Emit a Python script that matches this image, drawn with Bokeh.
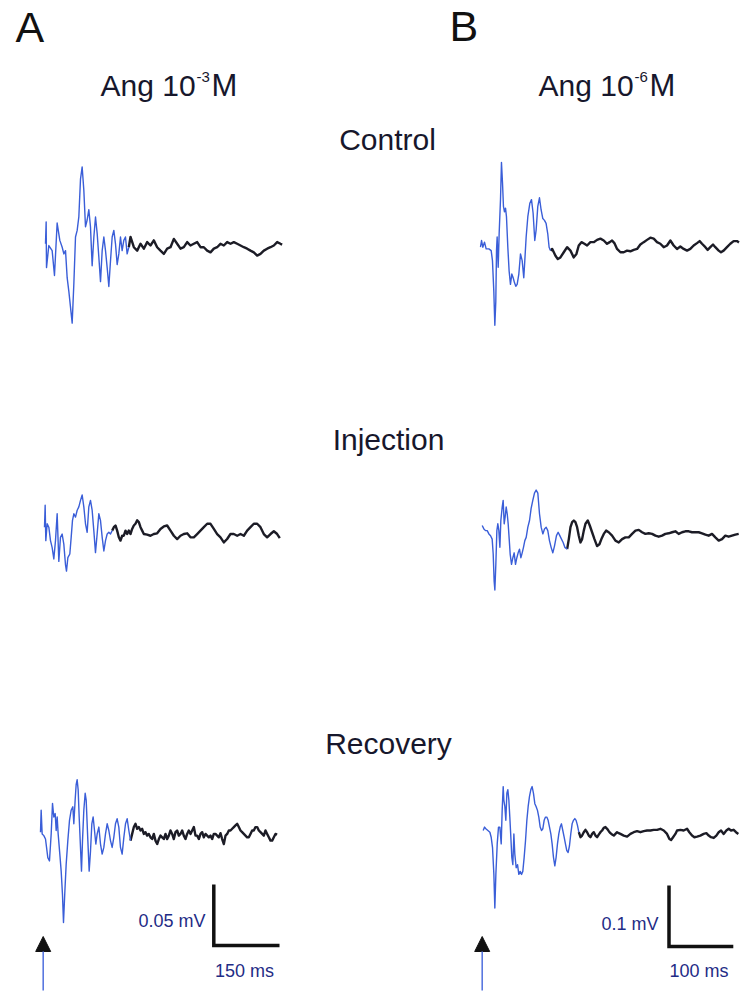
from bokeh.plotting import figure
from bokeh.models import Range1d, Arrow, NormalHead
from bokeh.core.properties import value
from bokeh.embed import file_html
from bokeh.resources import INLINE

# ---------------- data (time in ms, potential in microvolts) ----------------
a_ctrl_t = [0,1.5,2.3,7.6,15.2,20.5,26.6,32.7,38.1,41.9,45.7,49.5,53.3,60.9,64.7,68.5,72.3,76.1,79.9,83.7,
            87.5,91.3,95.1,98.9,102.7,106.5,110.4,114.2,118,121.8,125.6,129.4,133.2,137,140.8,144.6,148.4,152.2,
            156,159.8,163.6,167.4,171.2,175,178.8,182.6,186.4,190.2,194.1,
            201.7,209.3,216.9,224.5,232.1,239.7,247.3,254.9,262.5,270.2,277.8,285.4,293,300.6,308.2,315.8,323.4,
            331,338.6,346.3,353.9,361.5,369.1,376.7,384.3,391.9,399.5,407.1,414.7,422.4,430,437.6,445.2,452.8,
            460.4,468,475.6,483.2,490.8,498.5,506.1,513.7,521.3,528.9,536.5,540.3]
a_ctrl_v = [0,18,-19.5,-1.4,-5.6,-26,17,2.8,-2.8,-8.3,-5.6,-28,-39,-65,-33,5.6,11,22,53,63,44,14,19.5,28,14,
            -18,5.6,22,8.3,-11,-31,-5.6,5.6,-5.6,-19.5,-35,-14,5.6,11,0,-17,-8.3,5.6,-5.6,2.8,5.6,-8.3,-2.8,5.6,
            -2.8,-5.6,0,-4,1.4,-1.4,2.8,-2.8,-5.6,-8.3,-4,-2.8,4,0,-4,-2.8,1.4,-1.4,0,1.4,
            -2.8,-2.8,-5.6,-7,-4,-2.8,0,-1.4,1.4,0,1.4,0,-1.4,-2.8,-4,-5.6,-7,-9.7,-8.3,-5.6,
            -4,-2.8,-1.4,1.4,0,-0.6]

a_inj_t = [0,1.5,3,6.1,9.9,13.7,17.5,21.3,25.1,28.9,32.7,36.5,40.3,44.1,47.9,50.2,53.3,57.8,60.9,63.9,
           67,70.8,74.6,78.4,82.2,86,89.8,93.6,97.4,101.2,105,108.8,112.6,116.4,120.2,124,127.8,131.7,135.5,139.3,
           143.1,146.9,150.7,154.5,158.3,162.1,165.9,169.7,173.5,177.3,181.1,184.9,188.7,192.5,196.3,200.1,203.9,
           207.7,211.6,215.4,219.2,223,226.8,
           234.4,242,249.6,257.2,264.8,272.4,280,287.7,295.3,302.9,310.5,318.1,325.7,333.3,340.9,348.5,356.1,
           363.8,371.4,379,386.6,394.2,401.8,409.4,417,424.6,432.2,439.9,447.5,455.1,462.7,470.3,477.9,485.5,
           493.1,500.7,508.3,516,523.6,531.2,537.2]
a_inj_v = [0,18,-11,2.8,0,-11,-16.7,-26,-11,11,-28,-8.3,-5.6,-13.9,-30.6,-36,-25,-22,-8.3,5.6,
           11,8.3,13.9,16.7,22,26.4,16.7,2.8,-4.2,16.7,22,13.9,-2.8,-20.8,-5.6,11,5.6,-8.3,-19.5,-11,
           -5.6,-4.2,-5.6,-2.8,0,1.4,-2.8,-8.3,-11,-7,-7,-2.8,-5.6,-2.8,-5.6,-1.4,1.4,2.8,5.6,4.2,0,-2.8,-5.6,
           -6.1,-7,-5.6,-5,-1.4,0.6,1.4,-2.8,-7,-9.7,-7,-5.6,-5,-8.3,-8.3,-5.6,-2.8,0,2.8,2.8,
           -1.4,-5.6,-8.3,-12.5,-9.7,-5.6,-5.6,-7,-5.6,-7,-2.8,0,2.8,2.8,0,-5.6,-8.3,-5.6,-3.3,-5.6,-8.9]

a_rec_t = [0,1.5,3.8,7.6,11.4,16.7,20.5,24.4,27.4,30.4,33.5,35.8,38.1,40.3,44.1,47.2,50.2,52.5,55.6,58.6,
           62.4,66.2,70,73.8,76.1,79.1,81.4,83.7,86,88.3,91.3,93.6,95.9,98.9,102,104.3,108.1,111.1,114.2,117.2,
           120.2,123.3,126.3,129.4,
           133.2,137,140.8,144.6,148.4,152.2,156,159.8,163.6,167.4,171.2,175,178.8,182.6,186.4,190.3,194.1,197.9,
           201.7,205.5,209.3,213.1,216.9,220.7,224.5,228.3,232.1,235.9,239.7,243.5,247.3,251.1,254.9,258.7,262.5,
           266.4,270.2,274,277.8,281.6,285.4,289.2,293,296.8,300.6,304.4,308.2,312,315.8,319.6,323.4,327.2,331,
           334.8,338.6,342.5,346.3,350.1,353.9,357.7,361.5,365.3,369.1,372.9,376.7,380.5,384.3,388.1,391.9,395.7,
           399.5,403.3,407.1,410.9,414.7,418.6,422.4,426.2,430,433.8,437.6,441.4,445.2,449,452.8,456.6,460.4,
           464.2,468,471.8,475.6,479.4,483.2,487,490.8,494.7,498.5,502.3,506.1,509.9,513.7,517.5,521.3,525.1,
           528.9,532.7,536.5,540.3]
a_rec_v = [0,18,-1.4,-2.8,-5.6,-20.8,-23.6,-1.4,23.6,12.5,15.3,1.4,12.5,-1.4,-18,-31.9,-51.4,-74,-48.6,-26.4,
           -6.9,9.7,18,20.8,6.9,26.4,38.9,43,34.7,12.5,-12.5,-31.9,-6.9,18,31.9,26.4,-6.9,-31.9,-15.3,6.9,
           12.5,1.4,-9.7,-1.4,
           4.2,-9.7,-18,-12.5,-1.4,6.9,1.4,-6.9,-12.5,-4.2,6.9,11,4.2,-12.5,-18,-4.2,6.9,11,1.4,-6.9,
           -1.4,4.2,6.9,2.8,4.2,1.4,2.8,-1.4,0,-2.8,-1.4,-4.2,-5.6,-1.4,-6.9,-9.7,-5.6,-2.8,-4.2,-5.6,
           -1.4,-5.6,-2.8,1.4,-1.4,-5.6,0,1.4,-2.8,-1.4,1.4,-2.8,-5.6,-1.4,1.4,-1.4,1.4,4.2,-2.8,-2.8,
           -5.6,-1.4,0,-4.2,-1.4,-2.8,-4.2,-2.8,-5.6,-1.4,-1.4,-2.8,-4.2,-0.8,-5.6,-9.7,-2.8,-1.4,1.4,1.4,
           2.8,4.2,5.6,6.9,4.2,1.4,0,-1.4,-2.8,-4.2,-4.2,-1.4,1.4,1.4,4.2,4.2,1.4,0,-1.4,-2.8,
           1.4,-1.4,-4.2,-6.9,-6.9,-4.2,-1.4,-1.9]

b_ctrl_t = [0,1.6,3.6,6.2,8.8,13,16.6,18.6,20.7,22.3,23.8,24.9,25.9,27.5,29,31.1,32.6,34.2,35.7,37.3,
            38.9,40.4,42.5,44.5,46.6,48.7,50.8,52.8,54.9,57,59.6,62.2,64.8,67.3,68.9,71,73.6,76.7,79.3,81.8,
            84.4,86.5,89.1,91.7,94.3,96.9,99.5,102,104.6,106.7,108.8,111.4,114,116.6,120.2,124.3,129.5,134.7,
            139.9,145,149.2,152.8,157,161.6,165.8,170.9,176.1,181.3,186.5,191.7,196.8,201,204.6,208.2,212.4,
            217.6,222.7,227.9,233.1,238.3,243.5,248.6,253.8,259,264.2,269.4,274.5,279.7,284.9,290.1,295.3,
            300.4,305.6,310.8,316,321.2,326.3,331.5,336.7,340.8,344.5,349.7,353.3,357.4,361.6,365.2,370.4,374,
            378.1,383.3,388.5,393.7,398.9,402]
b_ctrl_v = [0,11,0,8.3,-2.8,-2.8,-5.6,-22,-72,-128,-89,-5.6,16.7,-33,22,78,139,106,67,58,
            64,50,0,-39,-61,-44,-50,-58,-64,-61,-44,-11,-22,-50,-22,16.7,50,72,78,56,
            11,28,67,81,61,47,44,39,22,0,-5.6,-2.8,-8.3,-14,-19.5,-16.7,-8.3,0,-5.6,-16.7,
            -11,2.8,8.3,5.6,2.8,8.3,8.3,12,14,11,5.6,8.3,11,6.7,-2.8,-8.3,-8.3,-5.6,-6.7,-4.4,
            -2.8,4.4,8.3,12,15.6,14,8.3,5.6,0,2.8,11,2.8,-2.8,1.1,-2.8,-5.6,-2.8,2.8,6.7,10,
            5.6,0,-4.4,0,4.4,0,-5.6,-8.3,-5.6,0,5.6,10,10,7.8]

b_inj_t = [0,2.6,5.2,7.8,10.4,13,15.5,17.1,18.6,19.7,21.2,22.8,24.3,25.9,27.5,29,31.1,32.6,34.2,35.7,
           37.3,38.9,40.4,42,43.5,45.6,47.7,49.7,51.8,53.9,55.9,58,60.1,62.2,64.2,66.3,68.4,71,73.6,76.1,
           78.7,81.3,83.9,86.5,89.1,91.7,94.3,96.9,99.5,102,104.6,107.2,109.8,112.4,115.5,118.1,120.7,123.3,
           125.9,128.5,132.1,134.7,137.3,139.9,142.5,145,147.6,150.2,152.8,155.4,158,160.6,164.2,167.3,170.9,
           174.6,178.7,182.3,185.4,189.1,192.7,196.8,202,207.2,212.4,217.6,222.7,227.9,233.1,238.3,243.5,
           248.6,253.8,259,264.2,269.4,274.5,279.7,284.9,290.1,295.3,300.4,305.6,310.8,316,321.2,326.3,331.5,
           336.7,341.9,347.1,352.2,357.4,362.6,367.8,373,378.1,383.3,388.5,393.7,398.9]
b_inj_v = [2.8,-2.8,-5.6,-5.6,-11,-13.9,-19.5,-44,-89,-103,-61,-5.6,5.6,-5.6,-33,11,33,44,5.6,16.7,
           33,22,5.6,-19.5,-44,-61,-50,-42,-61,-50,-42,-36,-50,-42,-33,-22,-16.7,0,11,31,
           44,56,61,56,22,0,-11,-2.8,0,-5.6,-22,-33,-42,-31,-13.9,-8.3,-13.9,-19.5,-25,-33,
           -36,-19.5,0,8.3,11,8.3,0,-13.9,-25,-19.5,-5.6,5.6,11,2.8,-8.3,-19.5,-31,-28,-19.5,-11,
           -5.6,-8.3,-13.9,-22,-25,-19.5,-16.7,-16.7,-11,-5.6,-4.4,-8.3,-11,-10,-11,-13.9,-15.6,-13.9,-11,-10,
           -8.3,-6.7,-11,-8.3,-6.7,-6.7,-8.3,-8.3,-8.3,-10,-12.2,-13.9,-11,-16.7,-22,-19.5,-13.9,-15.6,-13.9,
           -12.2,-11]

b_rec_t = [0,2.1,4.1,7.3,10.4,12.4,14.5,16.6,18.1,19.7,21.8,23.8,25.9,28,29.5,31.1,32.1,33.7,35.2,36.8,
           38.3,39.9,41.4,43,44.5,46.1,47.7,49.2,
           51.3,53.4,55.4,57.5,59.6,61.6,63.7,65.8,67.9,69.9,72,74.1,76.1,78.2,80.3,82.4,84.4,86.5,88.6,90.7,
           92.7,94.8,96.9,98.9,101,103.1,105.2,107.2,109.3,111.4,113.4,115.5,117.6,119.7,121.7,123.8,125.9,
           127.9,130,132.1,134.2,136.2,138.3,140.4,142.5,144.5,146.6,
           148.7,151.3,153.8,156.4,159,161.6,164.2,166.8,169.4,172,174.6,177.2,179.7,182.3,184.9,187.5,190.1,
           192.7,195.3,197.9,200.5,203.1,205.6,208.2,210.8,213.4,
           218.6,223.8,229,234.1,239.3,244.5,249.7,254.9,260,265.2,270.4,275.6,280.8,285.9,
           289.6,292.2,295.3,298.9,301.5,306.7,311.8,317,320.6,324.8,328.4,332.6,337.7,342.9,347.1,350.7,354.3,
           358.5,362.6,366.2,369.9,374,378.1,381.8,385.4,389.5,393.2,396.8]
b_rec_v = [0,5.6,2.8,0,-2.8,-11,-28,-72,-127,-72,-22,5.6,5.6,-22,33,72,50,39,16.7,61,
           67,50,22,-11,-44,-56,-5.6,-39,
           -61,-56,-72,-67,-72,-67,-44,-16.7,16.7,39,56,67,72,61,44,39,33,22,5.6,0,
           2.8,16.7,22,22,16.7,5.6,-5.6,-22,-44,-58,-44,-22,-5.6,5.6,11,0,-11,-22,-33,-36,
           -25,-5.6,11,16.7,19.5,16.7,8.3,
           -2.8,-11,-8.3,-2.8,1.1,-2.8,-8.3,-11,-5.6,-2.8,-8.3,-11,-6.7,-2.8,0,4.4,5.6,2.8,-1.1,-4.4,
           -6.7,-8.3,-5.6,-2.8,-4.4,-5.6,
           -8.3,-10,-5.6,-2.8,-1.1,-2.8,-1.1,0,0,1.1,1.1,2.8,0,-5.6,
           -13.9,-15.6,-11,-5.6,0,1.1,0,2.8,-2.8,-8.3,-11,-10,-8.3,-5.6,-4.4,-8.3,-11,-12.2,-8.3,-2.8,
           0,-5.6,0,2.8,0,1.1,-2.8,-5.6]

# time (ms) after which the stored trace is drawn in black instead of blue
split_ms = {"a_ctrl": 190, "a_inj": 151, "a_rec": 205, "b_ctrl": 107, "b_inj": 132, "b_rec": 147}

# scale bars
scale_a_ms, scale_a_uv = 150, 50
scale_b_ms, scale_b_uv = 100, 100

titles = ["Ang 10", "Ang 10"]
exponents = ["-3", "-6"]
conditions = ["Control", "Injection", "Recovery"]
panel_letters = ["A", "B"]

# ---------------- layout (page pixels) ----------------
W, H = 744, 992
X0, X1, Y0, Y1 = 0, 744, 0, 992
K_A, C_A = 150 / 65.7, 50 / 61.0      # ms per px, uV per px (column A)
K_B, C_B = 100 / 64.3, 100 / 61.0     # column B

panels = {
    "a_ctrl": (a_ctrl_t, a_ctrl_v, 45.0, 243.3, K_A, C_A),
    "a_inj":  (a_inj_t, a_inj_v, 44.0, 526.7, K_A, C_A),
    "a_rec":  (a_rec_t, a_rec_v, 40.0, 831.7, K_A, C_A),
    "b_ctrl": (b_ctrl_t, b_ctrl_v, 480.0, 246.7, K_B, C_B),
    "b_inj":  (b_inj_t, b_inj_v, 481.7, 526.7, K_B, C_B),
    "b_rec":  (b_rec_t, b_rec_v, 482.7, 830.0, K_B, C_B),
}

BLUE = "#3a5ed8"
DARK = "#1c1c26"
NAVY = "#1f2c86"
TXT = "#17172c"
FONT = value("Liberation Sans")

p = figure(width=W, height=H, x_range=Range1d(X0, X1), y_range=Range1d(Y1, Y0),
           output_backend="svg", toolbar_location=None, min_border=0,
           x_axis_location=None, y_axis_location=None,
           background_fill_color="white", border_fill_color="white")
p.grid.visible = False
p.outline_line_color = None


def add_ranges(name, x0, y0, k, c):
    p.extra_x_ranges["x_" + name] = Range1d(-(x0 - X0) * k, (X1 - x0) * k)
    p.extra_y_ranges["y_" + name] = Range1d(-(Y1 - y0) * c, (y0 - Y0) * c)


for name, (t, v, x0, y0, k, c) in panels.items():
    add_ranges(name, x0, y0, k, c)
    n = min(len(t), len(v))
    t, v = t[:n], v[:n]
    i = next((j for j, tt in enumerate(t) if tt >= split_ms[name]), n - 1)
    p.line(t[i:], v[i:], x_range_name="x_" + name, y_range_name="y_" + name,
           line_color=DARK, line_width=2.4, line_join="round")
    p.line(t[:i + 1], v[:i + 1], x_range_name="x_" + name, y_range_name="y_" + name,
           line_color=BLUE, line_width=1.4, line_join="round")

# scale bars
add_ranges("sa", 213.3, 945.0, K_A, C_A)
add_ranges("sb", 668.5, 946.0, K_B, C_B)
p.line([0, 0, scale_a_ms], [scale_a_uv, 0, 0], x_range_name="x_sa", y_range_name="y_sa",
       line_color="#111111", line_width=3.5, line_join="miter")
p.line([0, 0, scale_b_ms], [scale_b_uv, 0, 0], x_range_name="x_sb", y_range_name="y_sb",
       line_color="#111111", line_width=3.5, line_join="miter")

p.text(x=[205, 658], y=[920, 923],
       text=[f"{scale_a_uv / 1000:g} mV", f"{scale_b_uv / 1000:g} mV"],
       text_font=FONT, text_font_size=value("18px"), text_color=NAVY,
       text_align="right", text_baseline="alphabetic")
p.text(x=[244, 698.5], y=[970, 970],
       text=[f"{scale_a_ms} ms", f"{scale_b_ms} ms"],
       text_font=FONT, text_font_size=value("18px"), text_color=NAVY,
       text_align="center", text_baseline="alphabetic")

# stimulus arrows
for ax in (42.7, 481.7):
    p.add_layout(Arrow(end=NormalHead(size=15, fill_color="#111111", line_color="#111111", line_width=1),
                       x_start=ax, y_start=990, x_end=ax, y_end=936,
                       line_color="#5a78e0", line_width=1.6))

# panel letters
p.text(x=[15, 449], y=[26, 25], text=panel_letters, text_font=FONT,
       text_font_size=value("43px"), text_color="#111111",
       text_align="left", text_baseline="alphabetic")

# column titles with superscripts
p.text(x=[100, 538], y=[85, 85], text=titles, text_font=FONT,
       text_font_size=value("30px"), text_color=TXT,
       text_align="left", text_baseline="alphabetic")
p.text(x=[196, 634], y=[76, 76], text=exponents, text_font=FONT,
       text_font_size=value("15px"), text_color=TXT,
       text_align="left", text_baseline="alphabetic")
p.text(x=[211, 649], y=[85, 85], text=["M", "M"], text_font=FONT,
       text_font_size=value("31px"), text_color=TXT,
       text_align="left", text_baseline="alphabetic")

# condition labels
p.text(x=[387, 388, 388], y=[139, 439, 743], text=conditions, text_font=FONT,
       text_font_size=value("30px"), text_color=TXT,
       text_align="center", text_baseline="alphabetic")

open("out.html", "w").write(file_html(p, INLINE))
